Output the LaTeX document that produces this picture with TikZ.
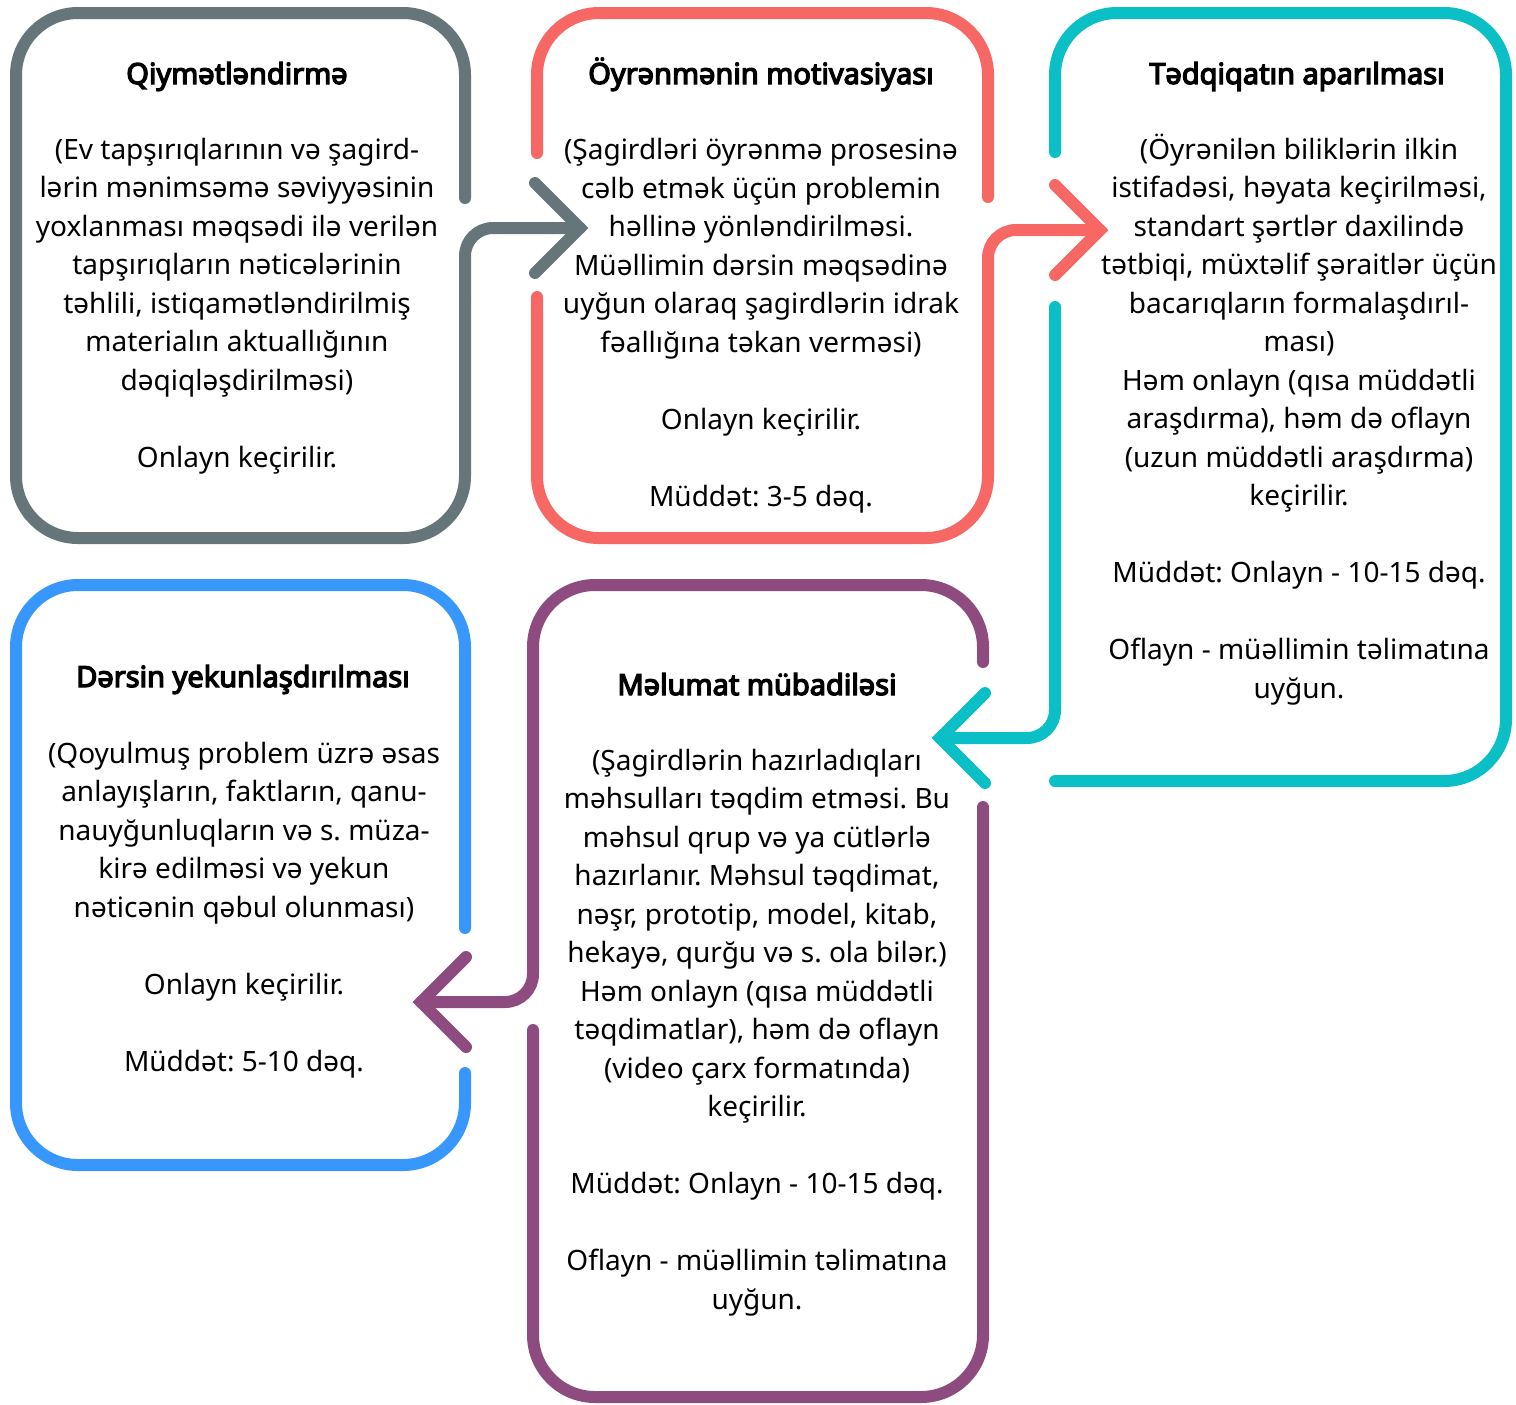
\documentclass[tikz,border=0pt]{standalone}
\usepackage{fontspec}
\setmainfont{Noto Sans}[AutoFakeBold=4.5]
\usepackage{xcolor}
\usetikzlibrary{positioning}
\frenchspacing

\definecolor{assesscol}{HTML}{65757A}
\definecolor{motivcol}{HTML}{F76864}
\definecolor{researchcol}{HTML}{0BBFC7}
\definecolor{exchangecol}{HTML}{8E4B80}
\definecolor{summarycol}{HTML}{3797FC}

\begin{document}
\begin{tikzpicture}[
    x=0.5pt, y=-0.5pt,
    frame/.style={line width=6pt, line cap=round, line join=round, rounded corners=31pt},
    shaft/.style={line width=6pt, line cap=round, line join=round, rounded corners=14pt},
    pointer/.style={line width=6pt, line cap=round, line join=miter},
    heading/.style={font=\fontsize{14.5}{19.25}\selectfont\bfseries, inner sep=0pt, anchor=base},
    body/.style={font=\fontsize{14}{19.25}\selectfont, align=center, inner sep=0pt, anchor=base}
]
    \useasboundingbox (0,0) rectangle (1516,1404);

    \coordinate (assesstip) at (580,228);
    \coordinate (motivtip) at (1100,230);
    \coordinate (researchtip) at (940,738);
    \coordinate (exchangetip) at (421,1002);

    % outlines
    \draw[frame, assesscol] (465,198) -- (465,13) -- (16,13) -- (16,538) -- (465,538) -- (465,300);
    \draw[shaft, assesscol] (465,300) -- (465,228) -- (assesstip);
    \draw[pointer, assesscol] (assesstip) ++(-45,-45) -- (assesstip) -- ++(-45,45);

    \draw[frame, motivcol] (988,197) -- (988,13) -- (537,13) -- (537,153)
        (537,297) -- (537,538) -- (988,538) -- (988,300);
    \draw[shaft, motivcol] (988,300) -- (988,230) -- (motivtip);
    \draw[pointer, motivcol] (motivtip) ++(-45,-45) -- (motivtip) -- ++(-45,45);

    \draw[frame, researchcol] (1055,152) -- (1055,13) -- (1506,13) -- (1506,781) -- (1055,781);
    \draw[shaft, researchcol] (1055,307) -- (1055,738) -- (researchtip);
    \draw[pointer, researchcol] (researchtip) ++(45,-45) -- (researchtip) -- ++(45,45);

    \draw[frame, exchangecol] (983,662) -- (983,585) -- (533,585) -- (533,900)
        (533,1030) -- (533,1397) -- (983,1397) -- (983,807);
    \draw[shaft, exchangecol] (533,900) -- (533,1002) -- (exchangetip);
    \draw[pointer, exchangecol] (exchangetip) ++(45,-45) -- (exchangetip) -- ++(45,45);

    \draw[frame, summarycol] (465,928) -- (465,585) -- (16,585) -- (16,1165) -- (465,1165) -- (465,1073);

    % texts (base = last line)
    \node[heading] (assesshead) at (237,84) {Qiymətləndirmə};
    \node[body] (assessbody) at (237,467) {(Ev tapşırıqlarının və şagird-\\lərin mənimsəmə səviyyəsinin\\yoxlanması məqsədi ilə verilən\\tapşırıqların nəticələrinin\\təhlili, istiqamətləndirilmiş\\materialın aktuallığının\\dəqiqləşdirilməsi)\\[19.25pt]Onlayn keçirilir.};

    \node[heading] (motivhead) at (761,84) {Öyrənmənin motivasiyası};
    \node[body] (motivbody) at (761,506) {(Şagirdləri öyrənmə prosesinə\\cəlb etmək üçün problemin\\həllinə yönləndirilməsi.\\Müəllimin dərsin məqsədinə\\uyğun olaraq şagirdlərin idrak\\fəallığına təkan verməsi)\\[19.25pt]Onlayn keçirilir.\\[19.25pt]Müddət: 3-5 dəq.};

    \node[heading] (researchhead) at (1297,84) {Tədqiqatın aparılması};
    \node[body] (researchbody) at (1299,698) {(Öyrənilən biliklərin ilkin\\istifadəsi, həyata keçirilməsi,\\standart şərtlər daxilində\\tətbiqi, müxtəlif şəraitlər üçün\\bacarıqların formalaşdırıl-\\ması)\\Həm onlayn (qısa müddətli\\araşdırma), həm də oflayn\\(uzun müddətli araşdırma)\\keçirilir.\\[19.25pt]Müddət: Onlayn - 10-15 dəq.\\[19.25pt]Oflayn - müəllimin təlimatına\\uyğun.};

    \node[heading] (summaryhead) at (243,687) {Dərsin yekunlaşdırılması};
    \node[body] (summarybody) at (244,1071) {(Qoyulmuş problem üzrə əsas\\anlayışların, faktların, qanu-\\nauyğunluqların və s. müza-\\kirə edilməsi və yekun\\nəticənin qəbul olunması)\\[19.25pt]Onlayn keçirilir.\\[19.25pt]Müddət: 5-10 dəq.};

    \node[heading] (exchangehead) at (757,695) {Məlumat mübadiləsi};
    \node[body] (exchangebody) at (757,1309) {(Şagirdlərin hazırladıqları\\məhsulları təqdim etməsi. Bu\\məhsul qrup və ya cütlərlə\\hazırlanır. Məhsul təqdimat,\\nəşr, prototip, model, kitab,\\hekayə, qurğu və s. ola bilər.)\\Həm onlayn (qısa müddətli\\təqdimatlar), həm də oflayn\\(video çarx formatında)\\keçirilir.\\[19.25pt]Müddət: Onlayn - 10-15 dəq.\\[19.25pt]Oflayn - müəllimin təlimatına\\uyğun.};
\end{tikzpicture}
\end{document}
